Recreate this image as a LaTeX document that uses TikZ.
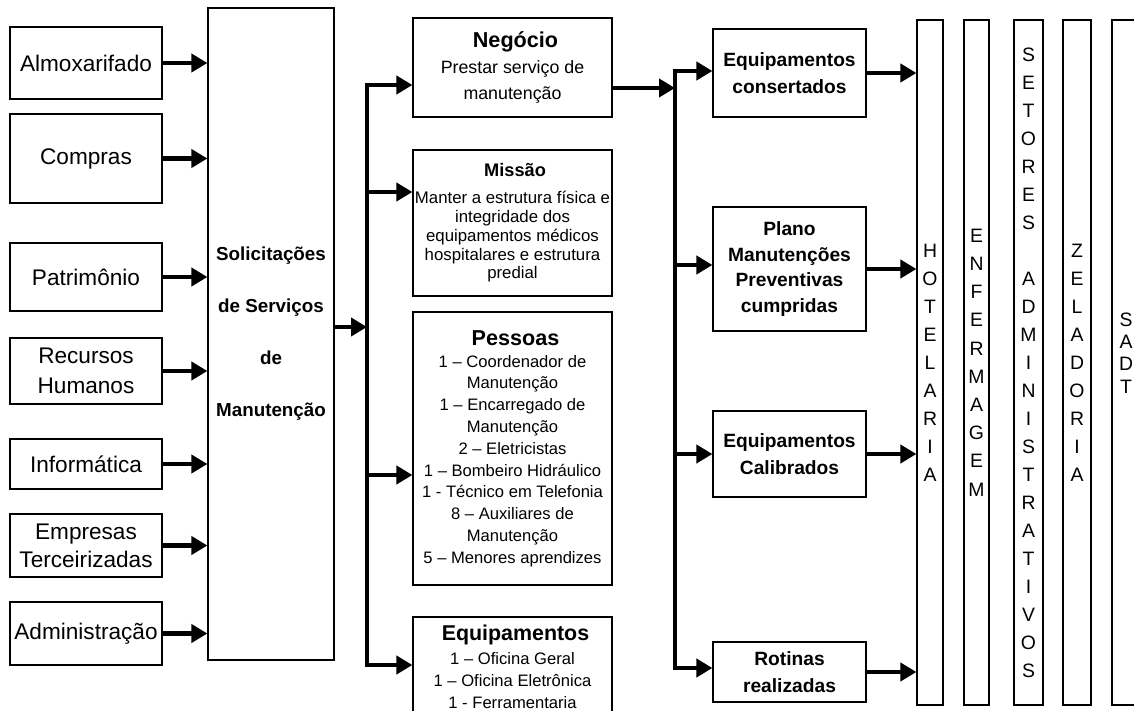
\documentclass[tikz,border=0pt]{standalone}
\usepackage{fontspec}
\setmainfont{Liberation Sans}
\usetikzlibrary{arrows.meta}
\newcommand{\fs}[2]{\fontsize{#1}{#2}\selectfont}
\lineskiplimit=-10pt

\begin{document}
\begin{tikzpicture}[x=0.5pt,y=-0.5pt,
    box/.style={draw, line width=0.6pt, inner sep=0pt, align=center},
    src/.style={box, minimum width=76pt, font=\fs{11.3}{15}},
    mid/.style={box, minimum width=99.5pt},
    res/.style={box, minimum width=76.5pt, font=\bfseries\fs{9.6}{13.5}},
    bar/.style={box, minimum height=342.5pt, font=\fs{9.7}{14}},
    conn/.style={line width=2.2pt, -{Triangle[length=8pt,width=9pt]}},
    bus/.style={line width=2.2pt, {Triangle[length=8pt,width=9pt]}-{Triangle[length=8pt,width=9pt]}}]
    \useasboundingbox (0,0) rectangle (1134,711);

    % sectors that send requests
    \node[src, minimum height=36pt] (alm) at (86,63) {Almoxarifado};
    \node[src, minimum height=44.5pt] (comp) at (86,158.5) {Compras};
    \node[src, minimum height=34pt] (patr) at (86,277) {Patrimônio};
    \node[src, minimum height=33pt] (rh) at (86,371) {Recursos\\Humanos};
    \node[src, minimum height=25pt] (info) at (86,464) {Informática};
    \node[src, minimum height=31.5pt, font=\fs{11.3}{14}] (emp) at (86,545.5) {Empresas\\Terceirizadas};
    \node[src, minimum height=31.5pt] (adm) at (86,633.5) {Administração};

    \node[box, minimum width=63pt, minimum height=326pt, font=\bfseries\fs{9.4}{26}] (sol) at (271,334)
        {Solicitações\\de Serviços\\de\\Manutenção};

    \foreach \s in {alm,comp,patr,rh,info,emp,adm}
        \draw[conn] (\s.east) -- (\s.east -| sol.west);

    % service core
    \node[mid, minimum height=49.5pt, font=\fs{8.9}{13}] (neg) at (512.5,67.5)
        {{\bfseries\fs{10.8}{13} Negócio}\\Prestar serviço de\\manutenção};
    \node[mid, minimum height=73pt, font=\fs{8.4}{9.4}] (mis) at (512.5,223)
        {{\bfseries\fs{9.1}{11} Missão}\\[4pt]Manter a estrutura física e\\integridade dos\\equipamentos médicos\\hospitalares e estrutura\\predial};
    \node[mid, minimum height=136.5pt, font=\fs{8.3}{10.9}] (pes) at (512.5,448.5)
        {{\bfseries\fs{10.8}{13} Pessoas}\\1 – Coordenador de\\Manutenção\\1 – Encarregado de\\Manutenção\\2 – Eletricistas\\1 – Bombeiro Hidráulico\\1 - Técnico em Telefonia\\8 – Auxiliares de\\Manutenção\\5 – Menores aprendizes};
    \node[mid, minimum height=49.5pt, font=\fs{8.3}{10.8}] (eqp) at (512.5,666.5)
        {{\bfseries\fs{10.7}{13} Equipamentos}\\[1.5pt]1 – Oficina Geral\\1 – Oficina Eletrônica\\1 - Ferramentaria};

    \coordinate (sj) at (367,327);
    \coordinate (s1) at (367,85);
    \coordinate (s2) at (367,192);
    \coordinate (s3) at (367,475);
    \coordinate (s4) at (367,665);
    \draw[conn] (sol.east |- sj) -- (sj);
    \draw[bus] (s1 -| neg.west) -- (s1) -- (s4) -- (s4 -| eqp.west);
    \draw[conn] (s2) -- (s2 -| mis.west);
    \draw[conn] (s3) -- (s3 -| pes.west);

    % results
    \node[res, minimum height=44pt] (cons) at (789.5,73) {Equipamentos\\consertados};
    \node[res, minimum height=62pt, font=\bfseries\fs{9.6}{12.8}] (plano) at (789.5,269)
        {Plano\\Manutenções\\Preventivas\\cumpridas};
    \node[res, minimum height=43pt] (cal) at (789.5,454) {Equipamentos\\Calibrados};
    \node[res, minimum height=30pt] (rot) at (789.5,672) {Rotinas\\realizadas};

    \coordinate (tj) at (675,88);
    \coordinate (t1) at (675,71);
    \coordinate (t2) at (675,265);
    \coordinate (t3) at (675,454);
    \coordinate (t4) at (675,668);
    \draw[conn] (neg.east |- tj) -- (tj);
    \draw[bus] (t1 -| cons.west) -- (t1) -- (t4) -- (t4 -| rot.west);
    \draw[conn] (t2) -- (t2 -| plano.west);
    \draw[conn] (t3) -- (t3 -| cal.west);

    % served sectors
    \node[bar, minimum width=13pt] (hot) at (930,362.5) {H\\O\\T\\E\\L\\A\\R\\I\\A};
    \node[bar, minimum width=12.5pt, font=\fs{9.7}{14.1}] (enf) at (976.5,362.5) {E\\N\\F\\E\\R\\M\\A\\G\\E\\M};
    \node[bar, minimum width=14.5pt] (set) at (1028.5,362.5)
        {S\\E\\T\\O\\R\\E\\S\\[14pt]A\\D\\M\\I\\N\\I\\S\\T\\R\\A\\T\\I\\V\\O\\S};
    \node[bar, minimum width=14pt] (zel) at (1077,362.5) {Z\\E\\L\\A\\D\\O\\R\\I\\A};
    \node[bar, minimum width=14pt] (sadt) at (1126,362.5) {};
    \node[align=center, inner sep=0pt, font=\fs{9.7}{11.2}] (sadtl) at (1126,353) {S\\A\\D\\T};

    \foreach \r in {cons,plano,cal,rot}
        \draw[conn] (\r.east) -- (\r.east -| hot.west);
\end{tikzpicture}
\end{document}
